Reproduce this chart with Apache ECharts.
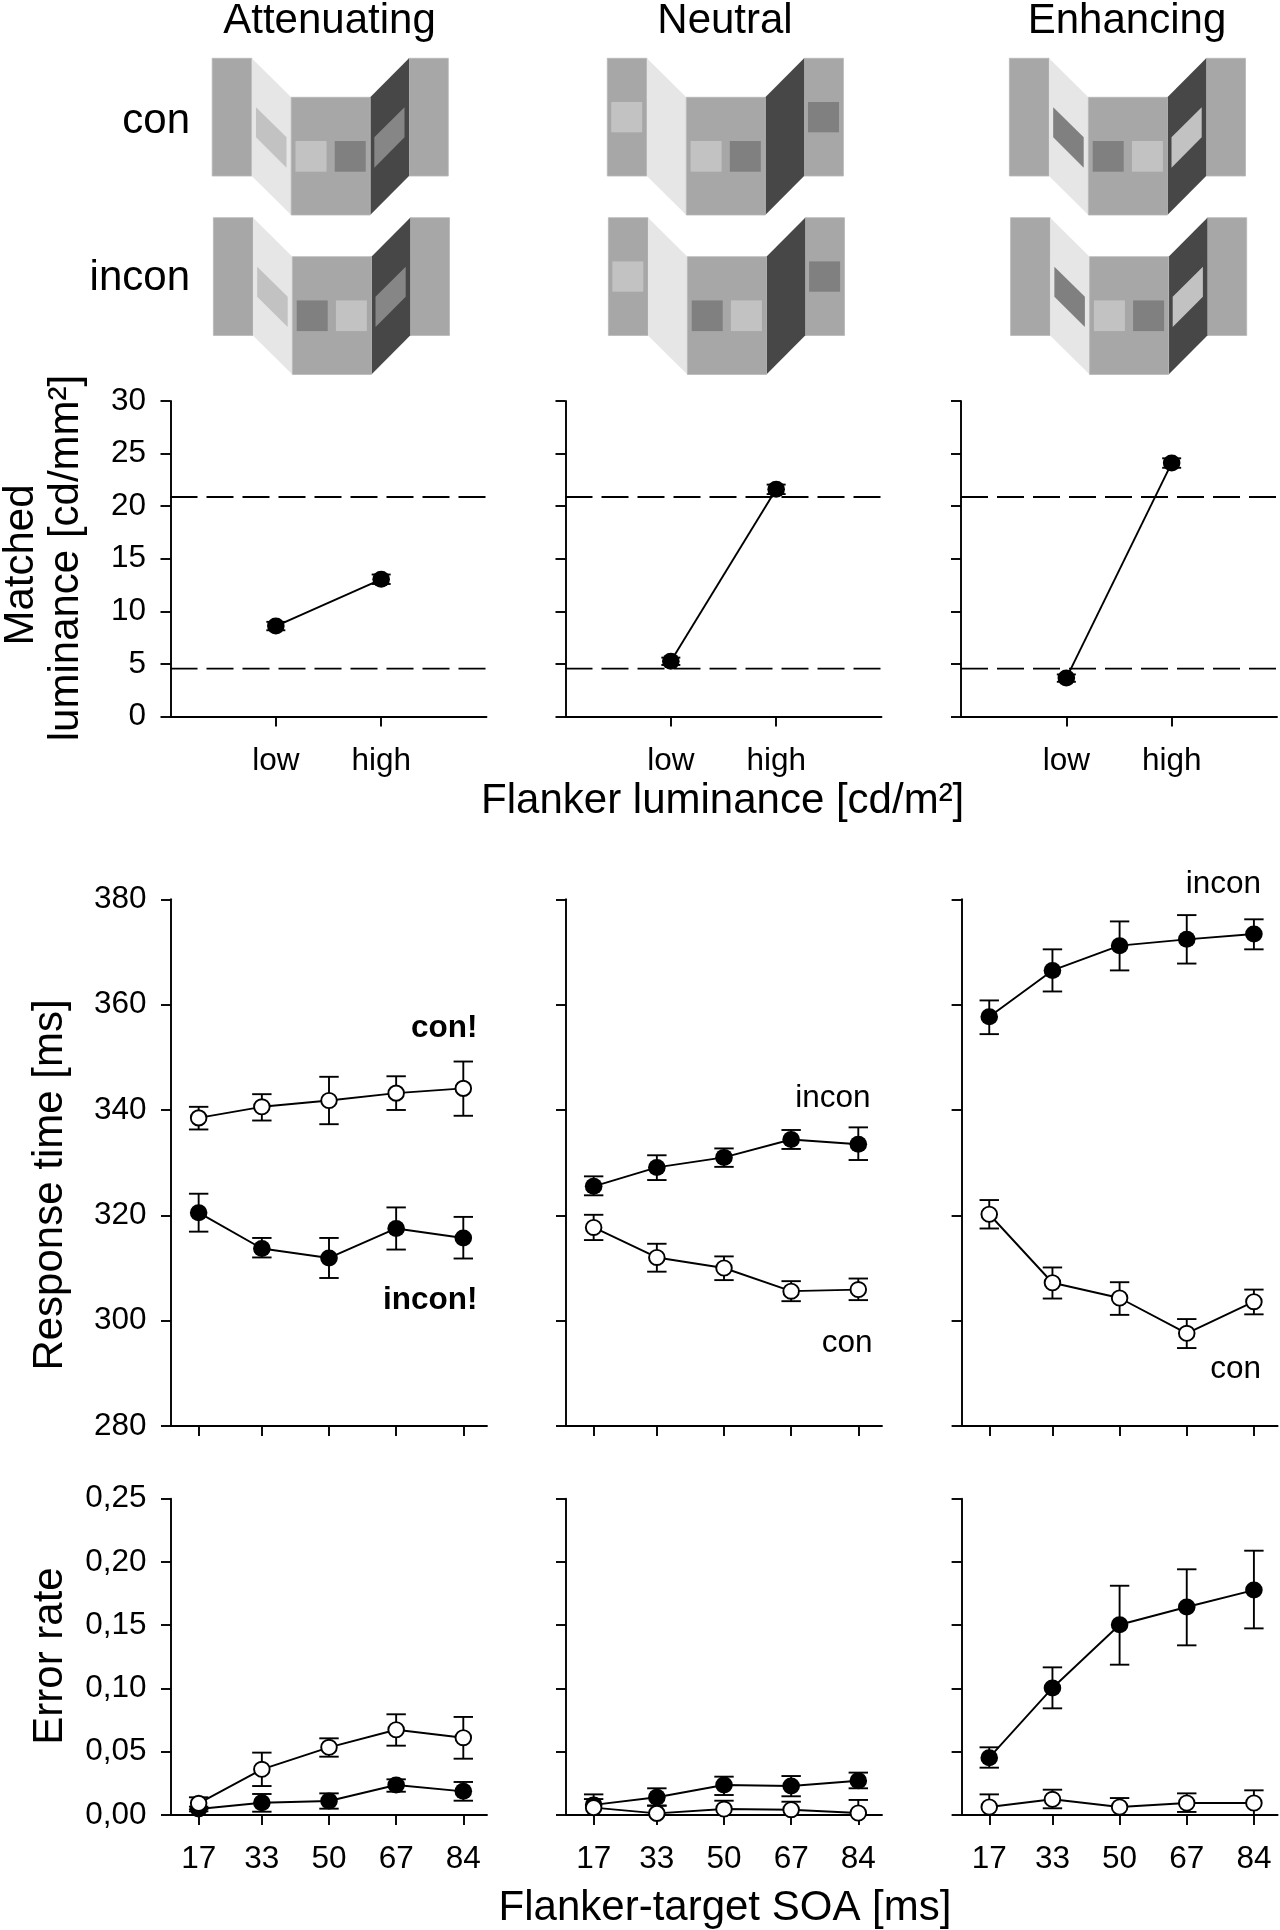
<!DOCTYPE html>
<html>
<head>
<meta charset="utf-8">
<style>html,body{margin:0;padding:0;background:#fff}#c{width:1280px;height:1930px}</style>
<script src="https://cdn.jsdelivr.net/npm/echarts@6/dist/echarts.min.js"></script>
</head>
<body>
<div id="c"></div>
<script>
// ---------- tick values ----------
const levels = [1, 2];
const levelNames = ['low', 'high'];
const soa = [17, 33, 50, 67, 84];
const columns = ['Attenuating', 'Neutral', 'Enhancing'];

// ---------- matched luminance ----------
const refLow = 4.55;
const refHigh = 20.87;
const matchAtt = [8.6, 13.05];
const matchAttLo = [8.2, 12.6];
const matchAttHi = [9.0, 13.5];
const matchNeu = [5.25, 21.6];
const matchNeuLo = [4.9, 21.15];
const matchNeuHi = [5.6, 22.05];
const matchEnh = [3.65, 24.1];
const matchEnhLo = [3.3, 23.65];
const matchEnhHi = [4.0, 24.55];

// ---------- response time ----------
const rtAttCon = [338.5, 340.6, 341.8, 343.2, 344.1];
const rtAttConLo = [336.3, 338.0, 337.3, 340.0, 338.9];
const rtAttConHi = [340.6, 343.0, 346.3, 346.4, 349.2];
const rtAttInc = [320.5, 313.7, 311.9, 317.5, 315.7];
const rtAttIncLo = [316.9, 312.0, 308.1, 313.5, 311.8];
const rtAttIncHi = [324.1, 315.7, 315.7, 321.5, 319.7];

const rtNeuCon = [317.7, 312.0, 310.0, 305.6, 305.9];
const rtNeuConLo = [315.3, 309.3, 307.7, 303.7, 303.9];
const rtNeuConHi = [320.1, 314.6, 312.2, 307.5, 308.0];
const rtNeuInc = [325.5, 329.1, 331.0, 334.4, 333.5];
const rtNeuIncLo = [323.8, 326.7, 329.2, 332.6, 330.5];
const rtNeuIncHi = [327.4, 331.4, 332.7, 336.2, 336.7];

const rtEnhCon = [320.2, 307.2, 304.3, 297.6, 303.6];
const rtEnhConLo = [317.5, 304.2, 301.1, 294.8, 301.2];
const rtEnhConHi = [322.9, 310.1, 307.3, 300.3, 305.9];
const rtEnhInc = [357.7, 366.5, 371.2, 372.4, 373.4];
const rtEnhIncLo = [354.4, 362.5, 366.5, 367.8, 370.5];
const rtEnhIncHi = [360.8, 370.5, 375.8, 377.0, 376.2];

// ---------- error rate ----------
const erAttCon = [0.0092, 0.0361, 0.0535, 0.0674, 0.0611];
const erAttConLo = [0.0045, 0.0229, 0.0461, 0.0548, 0.0445];
const erAttConHi = [0.0140, 0.0493, 0.0606, 0.0796, 0.0775];
const erAttInc = [0.0047, 0.0097, 0.0111, 0.0237, 0.0187];
const erAttIncLo = [0.0029, 0.0026, 0.0050, 0.0184, 0.0113];
const erAttIncHi = [0.0066, 0.0166, 0.0171, 0.0282, 0.0261];

const erNeuCon = [0.0058, 0.0013, 0.0047, 0.0042, 0.0016];
const erNeuConLo = [0.0, 0.0, 0.0, 0.0, 0.0];
const erNeuConHi = [0.0126, 0.0074, 0.0113, 0.0105, 0.0119];
const erNeuInc = [0.0080, 0.0140, 0.0237, 0.0229, 0.0271];
const erNeuIncLo = [0.0, 0.0074, 0.0158, 0.0148, 0.0211];
const erNeuIncHi = [0.0163, 0.0211, 0.0303, 0.0308, 0.0335];

const erEnhCon = [0.0063, 0.0124, 0.0063, 0.0095, 0.0095];
const erEnhConLo = [0.0, 0.0053, 0.0, 0.0024, 0.0];
const erEnhConHi = [0.0163, 0.0200, 0.0134, 0.0171, 0.0195];
const erEnhInc = [0.0453, 0.1004, 0.1504, 0.1644, 0.1778];
const erEnhIncLo = [0.0374, 0.0843, 0.1188, 0.1341, 0.1475];
const erEnhIncHi = [0.0535, 0.1167, 0.1812, 0.1942, 0.2089];

// ---------- layout & style ----------
const FONT = '"Liberation Sans", Arial, sans-serif';
const BIG = 42, MID = 31.5, LW = 1.9;
const rows = [
  {top: 401, bottom: 716.5, lefts: [170.5, 565.5, 961]},
  {top: 899.3, bottom: 1426, lefts: [171, 566, 961.6]},
  {top: 1498.7, bottom: 1815, lefts: [171, 566, 961.6]}
];
const PANEL_W = 316;
const TICK = 10;

const grid = [], xAxis = [], yAxis = [], series = [];

function addPanel(r, c, xCfg, yCfg) {
  const row = rows[r];
  grid.push({left: row.lefts[c], top: row.top, width: PANEL_W, height: row.bottom - row.top});
  const axisBase = {
    axisLine: {show: true, onZero: false, lineStyle: {color: '#000', width: LW}},
    axisTick: {show: true, length: TICK, lineStyle: {color: '#000', width: LW}},
    splitLine: {show: false}
  };
  xAxis.push(Object.assign({}, axisBase, {
    type: 'value', gridIndex: grid.length - 1, min: xCfg.min, max: xCfg.max, position: 'bottom',
    axisTick: Object.assign({}, axisBase.axisTick, {customValues: xCfg.ticks}),
    axisLabel: xCfg.labels
      ? {show: true, customValues: xCfg.ticks, formatter: xCfg.labels, margin: xCfg.margin,
         color: '#000', fontFamily: FONT, fontSize: MID, hideOverlap: false}
      : {show: false}
  }));
  yAxis.push(Object.assign({}, axisBase, {
    type: 'value', gridIndex: grid.length - 1, min: yCfg.min, max: yCfg.max, interval: yCfg.interval,
    axisLabel: {show: c === 0, margin: 24.5, color: '#000', fontFamily: FONT, fontSize: MID,
      showMinLabel: true, showMaxLabel: true, formatter: yCfg.fmt}
  }));
  return grid.length - 1;
}

function errorSeries(idx, xs, lo, hi, capHalf) {
  series.push({
    type: 'custom', xAxisIndex: idx, yAxisIndex: idx, z: 3, clip: false, silent: true,
    encode: {x: 0, y: [1, 2]},
    data: xs.map((x, i) => [x, lo[i], hi[i]]),
    renderItem(params, api) {
      const a = api.coord([api.value(0), api.value(1)]);
      const b = api.coord([api.value(0), api.value(2)]);
      const style = {stroke: '#000', lineWidth: LW, fill: null};
      return {type: 'group', children: [
        {type: 'line', shape: {x1: a[0], y1: a[1], x2: b[0], y2: b[1]}, style},
        {type: 'line', shape: {x1: a[0] - capHalf, y1: a[1], x2: a[0] + capHalf, y2: a[1]}, style},
        {type: 'line', shape: {x1: b[0] - capHalf, y1: b[1], x2: b[0] + capHalf, y2: b[1]}, style}
      ]};
    }
  });
}

function lineSeries(idx, xs, ys, open, z) {
  series.push({
    type: 'line', xAxisIndex: idx, yAxisIndex: idx, z: z, clip: false, silent: true,
    symbol: 'circle', symbolSize: open ? [15.6, 15.2] : [17.6, 17], showSymbol: true,
    lineStyle: {color: '#000', width: LW},
    itemStyle: open ? {color: '#fff', borderColor: '#000', borderWidth: 1.9}
                    : {color: '#000', borderColor: '#000', borderWidth: 0},
    data: xs.map((x, i) => [x, ys[i]])
  });
}

function refLine(idx, value) {
  series.push({
    type: 'line', xAxisIndex: idx, yAxisIndex: idx, z: 1, silent: true, symbol: 'none',
    lineStyle: {color: '#000', width: LW, type: [27, 9]},
    data: [[0, value], [3, value]]
  });
}

// row 1
[[matchAtt, matchAttLo, matchAttHi], [matchNeu, matchNeuLo, matchNeuHi], [matchEnh, matchEnhLo, matchEnhHi]]
.forEach((d, c) => {
  const idx = addPanel(0, c,
    {min: 0, max: 3, ticks: levels, margin: 29, labels: v => levelNames[levels.indexOf(v)]},
    {min: 0, max: 30, interval: 5});
  refLine(idx, refLow);
  refLine(idx, refHigh);
  errorSeries(idx, levels, d[1], d[2], 9.5);
  lineSeries(idx, levels, d[0], false, 4);
});

// row 2
[
  [rtAttInc, rtAttIncLo, rtAttIncHi, rtAttCon, rtAttConLo, rtAttConHi],
  [rtNeuInc, rtNeuIncLo, rtNeuIncHi, rtNeuCon, rtNeuConLo, rtNeuConHi],
  [rtEnhInc, rtEnhIncLo, rtEnhIncHi, rtEnhCon, rtEnhConLo, rtEnhConHi]
].forEach((d, c) => {
  const idx = addPanel(1, c, {min: 10, max: 90, ticks: soa},
    {min: 280, max: 380, interval: 20});
  errorSeries(idx, soa, d[1], d[2], 9.7);
  lineSeries(idx, soa, d[0], false, 4);
  errorSeries(idx, soa, d[4], d[5], 9.7);
  lineSeries(idx, soa, d[3], true, 5);
});

// row 3
[
  [erAttInc, erAttIncLo, erAttIncHi, erAttCon, erAttConLo, erAttConHi],
  [erNeuInc, erNeuIncLo, erNeuIncHi, erNeuCon, erNeuConLo, erNeuConHi],
  [erEnhInc, erEnhIncLo, erEnhIncHi, erEnhCon, erEnhConLo, erEnhConHi]
].forEach((d, c) => {
  const idx = addPanel(2, c,
    {min: 10, max: 90, ticks: soa, margin: 28, labels: v => String(v)},
    {min: 0, max: 0.25, interval: 0.05, fmt: v => v.toFixed(2).replace('.', ',')});
  errorSeries(idx, soa, d[1], d[2], 9.7);
  lineSeries(idx, soa, d[0], false, 4);
  errorSeries(idx, soa, d[4], d[5], 9.7);
  lineSeries(idx, soa, d[3], true, 5);
});

// ---------- text ----------
const graphic = [];
function label(text, x, baseline, size, align, weight) {
  graphic.push({type: 'text', x: x, y: baseline - 0.3465 * size + 2.5, z: 20, silent: true,
    style: {text: text, fill: '#000', font: (weight || 'normal') + ' ' + size + 'px ' + FONT,
            align: align, verticalAlign: 'middle'}});
}
function vlabel(text, baselineX, centerY, size) {
  graphic.push({type: 'text', x: baselineX - 0.3465 * size + 3, y: centerY, rotation: Math.PI / 2, z: 20, silent: true,
    style: {text: text, fill: '#000', font: 'normal ' + size + 'px ' + FONT,
            align: 'center', verticalAlign: 'middle'}});
}
label(columns[0], 329.5, 33, BIG, 'center');
label(columns[1], 725, 33, BIG, 'center');
label(columns[2], 1127, 33, BIG, 'center');
label('con', 190, 133, BIG, 'right');
label('incon', 190, 290.3, BIG, 'right');
label('Flanker luminance [cd/m²]', 722.7, 813.5, BIG, 'center');
label('Flanker-target SOA [ms]', 725, 1920, BIG, 'center');
vlabel('Matched', 32.6, 565, BIG);
vlabel('luminance [cd/mm²]', 77.5, 558, BIG);
vlabel('Response time [ms]', 62, 1185, BIG);
vlabel('Error rate', 62, 1656, BIG);
label('con!', 477.5, 1037, MID, 'right', 'bold');
label('incon!', 477.5, 1309, MID, 'right', 'bold');
label('incon', 870.5, 1107, MID, 'right');
label('con', 872.5, 1352, MID, 'right');
label('incon', 1261, 892.5, MID, 'right');
label('con', 1261, 1377.5, MID, 'right');

// ---------- stimulus illustrations ----------
const C_BG = '#a7a7a7', C_LIGHTWALL = '#e6e6e6', C_DARKWALL = '#474747', C_L = '#c2c2c2', C_D = '#808080';
const C_EDGE = '#b6b6b6';
function poly(ox, oy, pts, fill) {
  graphic.push({type: 'polygon', z: 10, silent: true,
    shape: {points: pts.map(p => [ox + p[0], oy + p[1]])},
    style: {fill: fill, stroke: null}});
}
function rect(ox, oy, x, y, w, h, fill, edge) {
  graphic.push({type: 'rect', z: 10, silent: true,
    shape: {x: ox + x, y: oy + y, width: w, height: h},
    style: {fill: fill, stroke: edge || null, lineWidth: 0.8}});
}
function stimulus(ox, oy, s) {
  rect(ox, oy, 0, 0, 39.6, 117.7, C_BG, C_EDGE);
  rect(ox, oy, 196.8, 0, 39.3, 117.7, C_BG, C_EDGE);
  poly(ox, oy, [[39.6, 0], [79, 39], [79, 156.7], [39.6, 117.7]], C_LIGHTWALL);
  poly(ox, oy, [[158, 39], [196.8, 0], [196.8, 117.7], [158, 156.7]], C_DARKWALL);
  rect(ox, oy, 79, 39, 79, 117.7, C_BG, C_EDGE);
  rect(ox, oy, 83.3, 82.7, 31, 30.7, s.c1);
  rect(ox, oy, 122.5, 82.7, 31, 30.7, s.c2);
  if (s.wallL) poly(ox, oy, [[43.8, 49], [74.3, 79], [74.3, 109.4], [43.8, 79]], s.wallL);
  if (s.wallR) poly(ox, oy, [[162.1, 79], [192.3, 49], [192.3, 79], [162.1, 109.4]], s.wallR);
  if (s.sideL) rect(ox, oy, 3.9, 43.7, 31, 30.3, s.sideL);
  if (s.sideR) rect(ox, oy, 200.7, 43.7, 31, 30.3, s.sideR);
}
stimulus(212.2, 58.3, {c1: C_L, c2: C_D, wallL: C_L, wallR: '#868686'});
stimulus(213.4, 217.7, {c1: C_D, c2: C_L, wallL: C_L, wallR: '#868686'});
stimulus(607.3, 58.3, {c1: C_L, c2: C_D, sideL: C_L, sideR: C_D});
stimulus(608.4, 217.7, {c1: C_D, c2: C_L, sideL: C_L, sideR: C_D});
stimulus(1009.4, 58.3, {c1: C_D, c2: C_L, wallL: C_D, wallR: C_L});
stimulus(1010.6, 217.7, {c1: C_L, c2: C_D, wallL: C_D, wallR: C_L});

const chart = echarts.init(document.getElementById('c'), null, {renderer: 'canvas', width: 1280, height: 1930});
chart.setOption({
  animation: false,
  backgroundColor: '#fff',
  grid: grid, xAxis: xAxis, yAxis: yAxis, series: series, graphic: graphic
});
</script>
</body>
</html>
